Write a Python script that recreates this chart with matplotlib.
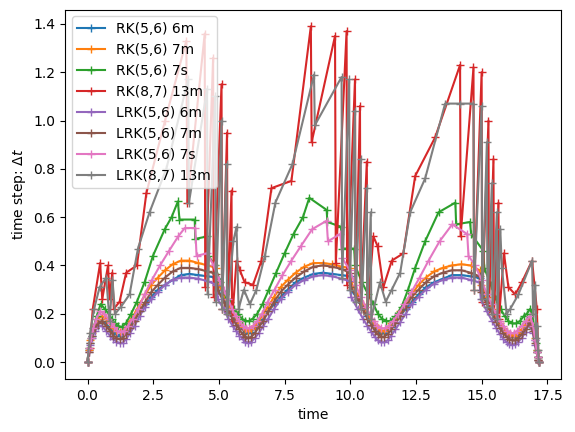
import matplotlib
matplotlib.use("Agg")
import matplotlib.pyplot as plt

# shared step times for the 6m / 7m runs
t_smooth = [0, 0.04, 0.1, 0.18, 0.28, 0.4, 0.55, 0.7, 0.85, 0.98,
            1.1, 1.22, 1.34, 1.47, 1.62, 1.79, 1.98, 2.2, 2.43, 2.68,
            2.95, 3.24, 3.55, 3.88, 4.22, 4.57, 4.9, 4.95, 5.18, 5.36,
            5.52, 5.66, 5.78, 5.9, 6.01, 6.12, 6.24, 6.37, 6.52, 6.69,
            6.88, 7.1, 7.35, 7.62, 7.92, 8.25, 8.6, 8.96, 9.32, 9.67,
            9.98, 10.03, 10.28, 10.48, 10.65, 10.8, 10.93, 11.05, 11.17, 11.29,
            11.42, 11.56, 11.72, 11.9, 12.11, 12.34, 12.6, 12.88, 13.19, 13.52,
            13.87, 14.23, 14.58, 14.92, 14.97, 15.2, 15.4, 15.56, 15.7, 15.83,
            15.95, 16.06, 16.17, 16.28, 16.4, 16.53, 16.67, 16.82, 16.95, 17.03,
            17.09, 17.13, 17.15, 17.17]

dt_rk56_6m = [0, 0.05, 0.08, 0.11, 0.14, 0.16, 0.17, 0.16, 0.14, 0.125,
              0.115, 0.11, 0.115, 0.13, 0.15, 0.18, 0.21, 0.24, 0.27, 0.3,
              0.32, 0.34, 0.36, 0.365, 0.36, 0.355, 0.35, 0.3, 0.26, 0.22,
              0.19, 0.17, 0.15, 0.135, 0.125, 0.12, 0.125, 0.14, 0.16, 0.18,
              0.21, 0.24, 0.27, 0.3, 0.33, 0.35, 0.365, 0.37, 0.365, 0.36,
              0.355, 0.3, 0.26, 0.22, 0.19, 0.165, 0.145, 0.13, 0.12, 0.12,
              0.13, 0.145, 0.165, 0.19, 0.22, 0.25, 0.28, 0.31, 0.33, 0.345,
              0.36, 0.36, 0.355, 0.35, 0.3, 0.25, 0.21, 0.18, 0.155, 0.135,
              0.12, 0.11, 0.105, 0.105, 0.115, 0.13, 0.15, 0.17, 0.14, 0.09,
              0.05, 0.02, 0.01, 0.0]

dt_rk56_7m = [0, 0.05, 0.09, 0.12, 0.15, 0.18, 0.19, 0.18, 0.16, 0.14,
              0.13, 0.125, 0.13, 0.145, 0.17, 0.2, 0.24, 0.28, 0.32, 0.35,
              0.38, 0.405, 0.42, 0.42, 0.41, 0.4, 0.39, 0.33, 0.28, 0.24,
              0.21, 0.18, 0.16, 0.145, 0.135, 0.13, 0.135, 0.15, 0.17, 0.2,
              0.23, 0.27, 0.31, 0.34, 0.37, 0.395, 0.41, 0.41, 0.405, 0.395,
              0.39, 0.33, 0.28, 0.24, 0.2, 0.175, 0.155, 0.14, 0.13, 0.13,
              0.14, 0.16, 0.18, 0.21, 0.25, 0.28, 0.32, 0.35, 0.375, 0.39,
              0.4, 0.405, 0.4, 0.38, 0.32, 0.27, 0.22, 0.19, 0.16, 0.14,
              0.125, 0.115, 0.11, 0.11, 0.12, 0.135, 0.155, 0.18, 0.15, 0.1,
              0.05, 0.02, 0.01, 0.0]

dt_lrk56_6m = [0, 0.04, 0.07, 0.1, 0.13, 0.15, 0.15, 0.13, 0.11, 0.095,
               0.085, 0.078, 0.08, 0.095, 0.12, 0.15, 0.19, 0.23, 0.26, 0.29,
               0.32, 0.34, 0.35, 0.35, 0.345, 0.335, 0.32, 0.26, 0.22, 0.18,
               0.15, 0.13, 0.11, 0.095, 0.085, 0.08, 0.085, 0.1, 0.12, 0.15,
               0.18, 0.22, 0.26, 0.29, 0.32, 0.34, 0.355, 0.36, 0.355, 0.345,
               0.335, 0.27, 0.22, 0.18, 0.15, 0.125, 0.105, 0.09, 0.082, 0.082,
               0.09, 0.11, 0.135, 0.165, 0.2, 0.24, 0.27, 0.3, 0.325, 0.34,
               0.35, 0.35, 0.34, 0.33, 0.26, 0.21, 0.17, 0.14, 0.115, 0.095,
               0.082, 0.075, 0.072, 0.075, 0.085, 0.1, 0.125, 0.16, 0.12, 0.07,
               0.04, 0.02, 0.01, 0.0]

dt_lrk56_7m = [0, 0.04, 0.08, 0.11, 0.14, 0.16, 0.17, 0.15, 0.13, 0.11,
               0.1, 0.095, 0.1, 0.115, 0.14, 0.17, 0.21, 0.25, 0.29, 0.32,
               0.35, 0.375, 0.39, 0.39, 0.385, 0.375, 0.365, 0.3, 0.25, 0.21,
               0.18, 0.155, 0.135, 0.115, 0.105, 0.1, 0.105, 0.12, 0.145, 0.17,
               0.21, 0.25, 0.29, 0.32, 0.35, 0.375, 0.395, 0.4, 0.395, 0.385,
               0.37, 0.31, 0.26, 0.22, 0.18, 0.155, 0.13, 0.115, 0.105, 0.105,
               0.115, 0.135, 0.16, 0.19, 0.23, 0.27, 0.3, 0.33, 0.355, 0.37,
               0.38, 0.38, 0.37, 0.355, 0.29, 0.24, 0.2, 0.165, 0.14, 0.12,
               0.105, 0.095, 0.09, 0.09, 0.1, 0.115, 0.135, 0.16, 0.13, 0.08,
               0.04, 0.02, 0.01, 0.0]

t_rk56_7s = [0, 0.05, 0.12, 0.22, 0.35, 0.5, 0.66, 0.8, 0.92, 1.04,
             1.16, 1.3, 1.46, 1.66, 1.88, 2.17, 2.49, 2.94, 3.2, 3.44,
             3.5, 4.08, 4.1, 4.55, 4.6, 4.85, 5.05, 5.25, 5.42, 5.58,
             5.73, 5.87, 6.0, 6.14, 6.29, 6.46, 6.66, 6.9, 7.18, 7.5,
             7.84, 8.2, 8.44, 9.1, 9.13, 9.65, 9.68, 10.15, 10.18, 10.45,
             10.68, 10.88, 11.05, 11.2, 11.35, 11.52, 11.72, 11.96, 12.2, 12.47,
             12.85, 13.36, 14.0, 14.03, 14.56, 14.6, 15.07, 15.1, 15.35, 15.55,
             15.72, 15.88, 16.02, 16.16, 16.3, 16.46, 16.6, 16.72, 16.85, 16.94,
             17.0, 17.07, 17.12, 17.15, 17.17]
dt_rk56_7s = [0, 0.06, 0.1, 0.14, 0.19, 0.24, 0.22, 0.2, 0.18, 0.16,
              0.15, 0.145, 0.16, 0.2, 0.25, 0.33, 0.44, 0.55, 0.6, 0.665,
              0.59, 0.59, 0.51, 0.52, 0.44, 0.4, 0.33, 0.28, 0.25, 0.22,
              0.2, 0.18, 0.17, 0.17, 0.18, 0.2, 0.24, 0.3, 0.37, 0.45,
              0.53, 0.6, 0.68, 0.63, 0.58, 0.56, 0.47, 0.47, 0.4, 0.33,
              0.28, 0.24, 0.2, 0.18, 0.17, 0.17, 0.19, 0.23, 0.3, 0.39,
              0.5, 0.62, 0.66, 0.57, 0.58, 0.53, 0.46, 0.39, 0.32, 0.26,
              0.22, 0.19, 0.17, 0.16, 0.16, 0.17, 0.19, 0.2, 0.22, 0.2,
              0.14, 0.08, 0.04, 0.02, 0.0]

t_lrk56_7s = [0, 0.05, 0.12, 0.22, 0.34, 0.48, 0.64, 0.78, 0.9, 1.02,
              1.14, 1.26, 1.39, 1.54, 1.72, 1.93, 2.17, 2.45, 2.76, 3.1,
              3.45, 3.7, 4.1, 4.15, 4.55, 4.8, 5.0, 5.18, 5.35, 5.5,
              5.64, 5.77, 5.9, 6.03, 6.16, 6.3, 6.46, 6.64, 6.86, 7.12,
              7.42, 7.76, 8.12, 8.55, 9.1, 9.15, 9.62, 9.7, 9.98, 10.2,
              10.4, 10.58, 10.74, 10.89, 11.03, 11.17, 11.31, 11.46, 11.63, 11.83,
              12.06, 12.33, 12.64, 12.98, 13.4, 13.88, 14.45, 14.5, 14.75, 15.0,
              15.2, 15.38, 15.54, 15.69, 15.83, 15.96, 16.09, 16.22, 16.36, 16.52,
              16.68, 16.85, 16.96, 17.04, 17.1, 17.14, 17.17]
dt_lrk56_7s = [0, 0.06, 0.1, 0.14, 0.18, 0.21, 0.2, 0.18, 0.16, 0.145,
               0.13, 0.125, 0.13, 0.15, 0.18, 0.22, 0.28, 0.34, 0.4, 0.46,
               0.52, 0.555, 0.555, 0.44, 0.45, 0.4, 0.34, 0.3, 0.26, 0.22,
               0.19, 0.17, 0.15, 0.14, 0.14, 0.15, 0.17, 0.2, 0.25, 0.3,
               0.36, 0.42, 0.48, 0.55, 0.585, 0.5, 0.53, 0.43, 0.38, 0.32,
               0.27, 0.23, 0.2, 0.17, 0.15, 0.14, 0.14, 0.15, 0.17, 0.2,
               0.24, 0.29, 0.35, 0.42, 0.5, 0.57, 0.53, 0.44, 0.4, 0.34,
               0.28, 0.24, 0.2, 0.17, 0.15, 0.13, 0.12, 0.12, 0.13, 0.15,
               0.17, 0.19, 0.15, 0.09, 0.04, 0.02, 0.0]

t_rk87_13m = [0, 0.08, 0.2, 0.48, 0.56, 0.78, 0.84, 0.94, 1.0, 1.22,
              1.47, 1.88, 2.24, 2.95, 3.76, 3.8, 4.46, 4.48, 4.78, 4.8,
              5.1, 5.12, 5.31, 5.33, 5.48, 5.5, 5.67, 5.8, 5.98, 6.3,
              6.62, 7.0, 7.76, 8.5, 8.53, 9.42, 9.45, 9.86, 9.88, 10.18,
              10.2, 10.37, 10.39, 10.63, 10.65, 10.88, 11.04, 11.26, 11.58, 12.02,
              12.47, 13.23, 14.18, 14.2, 14.69, 14.71, 15.0, 15.02, 15.26, 15.28,
              15.45, 15.47, 15.64, 15.66, 15.85, 16.02, 16.28, 16.53, 16.92, 17.1,
              17.17]
dt_rk87_13m = [0, 0.06, 0.22, 0.41, 0.26, 0.4, 0.26, 0.37, 0.22, 0.25,
               0.37, 0.4, 0.7, 1.0, 1.33, 0.66, 1.36, 0.31, 1.26, 0.27,
               1.15, 0.22, 0.95, 0.2, 0.71, 0.17, 0.42, 0.38, 0.33, 0.32,
               0.42, 0.72, 0.75, 1.39, 0.91, 1.35, 0.41, 1.37, 0.32, 1.17,
               0.27, 1.06, 0.22, 0.83, 0.2, 0.52, 0.48, 0.31, 0.42, 0.45,
               0.77, 0.93, 1.23, 0.52, 1.22, 0.3, 1.2, 0.25, 1.0, 0.22,
               0.84, 0.2, 0.66, 0.18, 0.45, 0.31, 0.28, 0.33, 0.42, 0.22,
               0.0]

t_lrk87_13m = [0, 0.1, 0.25, 0.46, 0.71, 0.84, 0.95, 1.05, 1.28, 1.6,
               1.92, 2.36, 3.0, 3.83, 3.86, 4.55, 4.57, 4.86, 4.88, 5.1,
               5.12, 5.29, 5.31, 5.55, 5.67, 5.75, 5.95, 6.18, 6.43, 6.75,
               7.15, 7.8, 8.62, 8.65, 9.67, 9.69, 9.96, 9.98, 10.18, 10.2,
               10.4, 10.42, 10.63, 10.65, 10.78, 10.8, 11.13, 11.35, 11.58, 11.9,
               12.28, 12.85, 13.61, 14.18, 14.69, 14.71, 15.0, 15.02, 15.2, 15.22,
               15.39, 15.41, 15.58, 15.6, 15.71, 15.77, 15.95, 16.09, 16.4, 16.92,
               16.96, 17.04, 17.08, 17.12, 17.15, 17.17]
dt_lrk87_13m = [0, 0.12, 0.22, 0.31, 0.35, 0.17, 0.34, 0.2, 0.23, 0.28,
                0.47, 0.62, 0.8, 1.17, 0.66, 1.13, 0.28, 1.1, 0.25, 1.0,
                0.22, 0.82, 0.2, 0.5, 0.56, 0.22, 0.3, 0.24, 0.3, 0.44,
                0.66, 0.82, 1.19, 0.98, 1.18, 0.35, 1.17, 0.3, 1.04, 0.25,
                0.84, 0.22, 0.72, 0.2, 0.62, 0.18, 0.33, 0.25, 0.3, 0.37,
                0.62, 0.76, 1.07, 1.07, 1.07, 0.3, 1.06, 0.26, 0.91, 0.23,
                0.74, 0.2, 0.62, 0.18, 0.55, 0.39, 0.2, 0.22, 0.28, 0.42,
                0.2, 0.32, 0.1, 0.15, 0.05, 0.0]

series = [
    ("RK(5,6) 6m", t_smooth, dt_rk56_6m),
    ("RK(5,6) 7m", t_smooth, dt_rk56_7m),
    ("RK(5,6) 7s", t_rk56_7s, dt_rk56_7s),
    ("RK(8,7) 13m", t_rk87_13m, dt_rk87_13m),
    ("LRK(5,6) 6m", t_smooth, dt_lrk56_6m),
    ("LRK(5,6) 7m", t_smooth, dt_lrk56_7m),
    ("LRK(5,6) 7s", t_lrk56_7s, dt_lrk56_7s),
    ("LRK(8,7) 13m", t_lrk87_13m, dt_lrk87_13m),
]

fig = plt.figure(figsize=(5.75, 4.32), dpi=100)
ax = fig.add_subplot(111)
fig.subplots_adjust(left=0.113, right=0.976, top=0.978, bottom=0.123)

for label, t, dt in series:
    ax.plot(t, dt, marker="+", label=label)

ax.set_xlabel("time")
ax.set_ylabel(r"time step: $\Delta t$")
ax.legend(loc="upper left")

fig.savefig("out.png")
